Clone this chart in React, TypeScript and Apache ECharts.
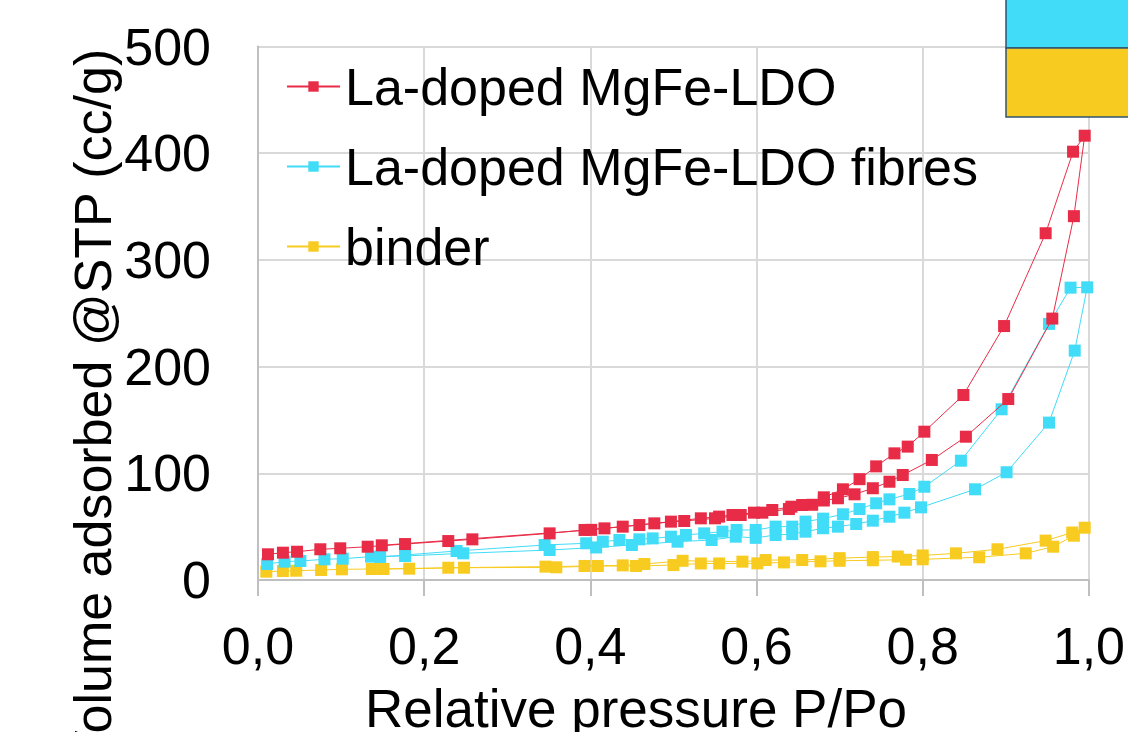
import React, { useEffect, useRef } from "react";
import * as echarts from "echarts";

// ---- Data ----
const seriesNames = ["La-doped MgFe-LDO", "La-doped MgFe-LDO fibres", "binder"];
const xTickLabels = ["0,0", "0,2", "0,4", "0,6", "0,8", "1,0"];

// La-doped MgFe-LDO: adsorption then desorption
const ldoAdsP = [0.012, 0.03, 0.047, 0.075, 0.099, 0.132, 0.177, 0.229, 0.258, 0.351, 0.393, 0.439, 0.477, 0.513, 0.55, 0.581, 0.607, 0.639, 0.667, 0.681, 0.698, 0.718, 0.74, 0.76, 0.776, 0.811, 0.852, 0.903, 0.956, 0.982, 0.995];
const ldoAdsV = [24.1, 25.6, 26.5, 28.8, 29.7, 31.2, 33.7, 36.5, 38.1, 43.7, 46.9, 50.0, 53.1, 55.3, 57.8, 60.9, 63.1, 66.5, 70.5, 74.5, 76.6, 80.3, 86.0, 92.1, 98.4, 112.5, 134.3, 169.6, 245.0, 341.0, 416.4];
const ldoDesP = [0.981, 0.948, 0.898, 0.849, 0.802, 0.782, 0.766, 0.744, 0.724, 0.704, 0.681, 0.655, 0.642, 0.619, 0.597, 0.571, 0.555, 0.533, 0.497, 0.459, 0.417, 0.401, 0.149];
const ldoDesV = [401.4, 325.0, 238.0, 173.4, 139.0, 125.0, 118.7, 106.5, 94.5, 85.0, 77.5, 70.3, 68.7, 65.6, 63.1, 60.9, 59.4, 57.8, 54.7, 51.5, 48.4, 47.0, 32.5];

// La-doped MgFe-LDO fibres
const fibAdsP = [0.011, 0.032, 0.051, 0.08, 0.102, 0.136, 0.177, 0.247, 0.351, 0.407, 0.45, 0.505, 0.546, 0.575, 0.599, 0.623, 0.643, 0.659, 0.68, 0.698, 0.72, 0.74, 0.76, 0.778, 0.798, 0.863, 0.901, 0.952, 0.983, 0.998];
const fibAdsV = [15.0, 17.2, 17.8, 19.4, 20.0, 21.9, 22.5, 25.0, 28.1, 30.5, 32.8, 35.9, 37.5, 40.6, 39.5, 42.2, 43.0, 45.3, 48.5, 50.0, 52.5, 55.6, 59.3, 63.1, 68.1, 85.0, 101.0, 147.5, 215.0, 274.3];
const fibDesP = [0.978, 0.952, 0.895, 0.846, 0.802, 0.784, 0.76, 0.744, 0.724, 0.704, 0.68, 0.659, 0.643, 0.623, 0.599, 0.576, 0.559, 0.537, 0.515, 0.497, 0.475, 0.459, 0.435, 0.415, 0.395, 0.345, 0.239, 0.147];
const fibDesV = [274.0, 240.0, 160.0, 111.8, 87.4, 80.6, 75.6, 71.9, 66.5, 61.6, 57.5, 54.7, 50.0, 50.0, 46.9, 46.9, 45.3, 43.7, 42.2, 40.6, 39.0, 38.1, 37.5, 35.9, 34.4, 32.8, 27.2, 21.6];

// binder
const binAdsP = [0.01, 0.03, 0.046, 0.076, 0.101, 0.137, 0.182, 0.248, 0.359, 0.409, 0.455, 0.5, 0.533, 0.555, 0.601, 0.633, 0.677, 0.7, 0.74, 0.78, 0.8, 0.868, 0.924, 0.957, 0.982, 0.995];
const binAdsV = [7.8, 8.4, 8.7, 9.4, 10.0, 10.3, 10.6, 11.5, 11.9, 13.1, 13.1, 14.0, 15.5, 15.5, 15.6, 16.5, 17.5, 18.0, 18.5, 19.0, 19.4, 21.3, 25.0, 31.2, 41.5, 49.0];
const binDesP = [0.98, 0.948, 0.89, 0.84, 0.8, 0.77, 0.74, 0.7, 0.655, 0.611, 0.583, 0.511, 0.465, 0.439, 0.393, 0.346, 0.229, 0.151];
const binDesV = [44.5, 36.9, 28.8, 25.0, 23.0, 22.0, 21.5, 20.5, 18.7, 18.7, 17.2, 18.0, 15.0, 13.7, 13.1, 12.5, 11.5, 10.3];

const colors = ["#e82c47", "#41dcf8", "#f8cb20"];
const FONT = "'Liberation Sans', Arial, sans-serif";

function pairs(ps: number[], vs: number[]) {
  return ps.map((p, i) => [p, vs[i]]);
}

export default function App() {
  const ref = useRef<HTMLDivElement>(null);
  useEffect(() => {
    if (!ref.current) return;
    const chart = echarts.init(ref.current, null, { renderer: "svg" });
    const datasets = [
      pairs(ldoAdsP, ldoAdsV).concat(pairs(ldoDesP, ldoDesV)),
      pairs(fibAdsP, fibAdsV).concat(pairs(fibDesP, fibDesV)),
      pairs(binAdsP, binAdsV).concat(pairs(binDesP, binDesV)),
    ];
    chart.setOption({
      animation: false,
      backgroundColor: "#ffffff",
      grid: { left: 258, right: 38, top: 46.5, bottom: 152, containLabel: false },
      xAxis: {
        type: "value",
        min: 0,
        max: 1,
        interval: 0.2,
        axisLine: { show: true, onZero: false, lineStyle: { color: "#bfbfbf", width: 2 } },
        axisTick: { show: true, length: 16, inside: false, lineStyle: { color: "#bfbfbf", width: 2 } },
        splitLine: { show: true, lineStyle: { color: "#d9d9d9", width: 2 } },
        axisLabel: {
          margin: 40,
          color: "#000",
          fontSize: 52,
          fontFamily: FONT,
          formatter: (v: number) => xTickLabels[Math.round(v / 0.2)] ?? "",
        },
      },
      yAxis: {
        type: "value",
        min: 0,
        max: 500,
        interval: 100,
        axisLine: { show: true, lineStyle: { color: "#bfbfbf", width: 2 } },
        axisTick: { show: false },
        splitLine: { show: true, lineStyle: { color: "#d9d9d9", width: 2 } },
        axisLabel: { margin: 47, color: "#000", fontSize: 52, fontFamily: FONT },
      },
      legend: {
        orient: "vertical",
        left: 281,
        top: 52,
        itemWidth: 53,
        itemHeight: 13,
        itemGap: 21,
        textStyle: { fontSize: 52, fontFamily: FONT, color: "#000", lineHeight: 59 },
        data: seriesNames,
      },
      series: datasets.map((d, i) => ({
        name: seriesNames[i],
        type: "line",
        data: d,
        symbol: "rect",
        symbolSize: 12,
        showSymbol: true,
        lineStyle: { color: colors[i], width: 1 },
        itemStyle: { color: colors[i] },
        z: 3 - i,
      })),
      graphic: [
        {
          type: "text",
          x: 93,
          y: 407,
          rotation: Math.PI / 2,
          style: {
            text: "Volume adsorbed @STP (cc/g)",
            fontSize: 52,
            fontFamily: FONT,
            fill: "#000",
            align: "center",
            verticalAlign: "middle",
          },
        },
        {
          type: "text",
          x: 636,
          y: 708,
          style: {
            text: "Relative pressure P/Po",
            fontSize: 53,
            fontFamily: FONT,
            fill: "#000",
            align: "center",
            verticalAlign: "middle",
          },
        },
        {
          type: "rect",
          z: 100,
          shape: { x: 1006, y: -2, width: 130, height: 50 },
          style: { fill: "#41dcf8", stroke: "#2f5470", lineWidth: 1.5 },
        },
        {
          type: "rect",
          z: 100,
          shape: { x: 1006, y: 48, width: 130, height: 69 },
          style: { fill: "#f8cb20", stroke: "#2f5470", lineWidth: 1.5 },
        },
      ],
    });
    return () => chart.dispose();
  }, []);
  return (
    <div
      ref={ref}
      style={{ position: "fixed", left: 0, top: 0, width: 1128, height: 732 }}
    />
  );
}
